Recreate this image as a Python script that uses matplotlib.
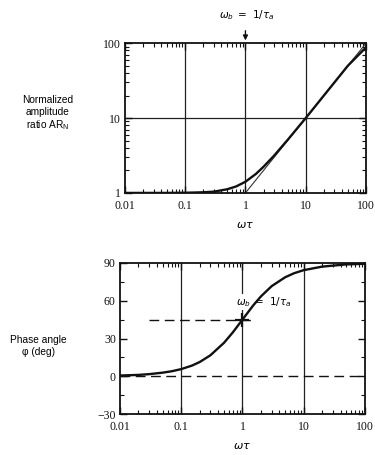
import matplotlib
matplotlib.use("Agg")
import matplotlib.pyplot as plt
from matplotlib.ticker import FixedLocator, LogLocator, NullFormatter, MultipleLocator

# Normalized frequency (omega * tau) and response
w_ar = [0.01, 0.05, 0.1, 0.2, 0.3, 0.5, 0.7, 1.0, 1.5, 2.0, 3.0, 5.0, 7.0, 10.0, 20.0, 50.0, 100.0]
ar_n = [1.0, 1.0, 1.005, 1.02, 1.04, 1.12, 1.22, 1.41, 1.8, 2.24, 3.16, 5.1, 7.07, 10.0, 20.0, 50.0, 88.0]

# High-frequency asymptote of the amplitude ratio
w_asym = [1.0, 100.0]
ar_asym = [1.0, 100.0]

w_ph = [0.01, 0.02, 0.03, 0.05, 0.07, 0.1, 0.15, 0.2, 0.3, 0.5, 0.7, 1.0, 1.5, 2.0, 3.0, 5.0, 7.0, 10.0, 20.0, 50.0, 100.0]
phase = [0.6, 1.1, 1.7, 2.9, 4.0, 5.7, 8.5, 11.3, 16.7, 26.6, 35.0, 45.0, 56.3, 63.4, 71.6, 78.7, 81.9, 84.3, 87.1, 88.9, 89.4]

# Reference levels on the phase plot
phase_mid = 45
phase_zero = 0
corner = 1.0

xticks = [0.01, 0.1, 1, 10, 100]
xticklabels = ["0.01", "0.1", "1", "10", "100"]
ar_ticks = [1, 10, 100]
ar_ticklabels = ["1", "10", "100"]
ph_ticks = [-30, 0, 30, 60, 90]
ph_ticklabels = ["\u221230", "0", "30", "60", "90"]

tick_font = {"family": "Liberation Serif", "size": 8.5}
lab_font = {"family": "Liberation Sans", "size": 7.3}

fig = plt.figure(figsize=(3.75, 4.55), dpi=100)

def style(ax):
    ax.set_xscale("log")
    ax.set_xlim(0.01, 100)
    ax.xaxis.set_major_locator(FixedLocator(xticks))
    ax.set_xticklabels(xticklabels, fontdict=tick_font)
    ax.xaxis.set_minor_locator(LogLocator(base=10, subs=range(2, 10), numticks=20))
    ax.xaxis.set_minor_formatter(NullFormatter())
    ax.tick_params(which="both", direction="in", top=True, right=True, colors="#111111")
    ax.tick_params(which="major", length=5, width=1.0, pad=3)
    ax.tick_params(axis="x", which="major", pad=5)
    ax.tick_params(which="minor", length=3, width=0.8)
    for s in ax.spines.values():
        s.set_linewidth(1.3)
        s.set_color("#111111")
    ax.set_xlabel(r"$\omega\tau$", fontsize=8, labelpad=6)
    for xv in [0.1, 1, 10]:
        ax.axvline(xv, color="#222222", lw=0.9, zorder=1)

# Amplitude ratio plot
ax1 = fig.add_axes([0.333, 0.576, 0.643, 0.329])
style(ax1)
ax1.set_yscale("log")
ax1.set_ylim(1, 100)
ax1.yaxis.set_major_locator(FixedLocator(ar_ticks))
ax1.set_yticklabels(ar_ticklabels, fontdict=tick_font)
ax1.yaxis.set_minor_locator(LogLocator(base=10, subs=range(2, 10), numticks=20))
ax1.yaxis.set_minor_formatter(NullFormatter())
ax1.axhline(10, color="#222222", lw=0.9, zorder=1)
ax1.plot(w_asym, ar_asym, color="#333333", lw=0.8, zorder=2)
ax1.plot(w_ar, ar_n, color="#111111", lw=1.7, zorder=3)
ax1.annotate("", xy=(corner, 100), xytext=(corner, 160),
             xycoords="data", textcoords="data",
             arrowprops=dict(arrowstyle="-|>", color="#111111", lw=1.0, mutation_scale=7),
             annotation_clip=False)
ax1.text(corner * 1.05, 235, r"$\omega_b\ =\ 1/\tau_a$", ha="center", va="center", fontsize=7.5)
fig.text(0.128, 0.75, "Normalized\namplitude\nratio AR$_\\mathregular{N}$", ha="center", va="center",
         fontdict=lab_font, linespacing=1.2)

# Phase angle plot
ax2 = fig.add_axes([0.32, 0.09, 0.653, 0.332])
style(ax2)
ax2.set_ylim(-30, 90)
ax2.yaxis.set_major_locator(FixedLocator(ph_ticks))
ax2.set_yticklabels(ph_ticklabels, fontdict=tick_font)
ax2.yaxis.set_minor_locator(MultipleLocator(15))
ax2.plot([0.03, 1.6], [phase_mid, phase_mid], color="#111111", lw=1.0, dashes=(7, 4), zorder=2)
ax2.axhline(phase_zero, color="#111111", lw=1.0, dashes=(7, 4), zorder=2)
ax2.plot(w_ph, phase, color="#111111", lw=1.7, zorder=3)
ax2.plot([corner], [phase_mid], marker="+", color="#111111", ms=10, mew=1.6, zorder=4)
ax2.text(0.78, 59, r"$\omega_b\ =\ 1/\tau_a$", ha="left", va="center", fontsize=7.5,
         bbox=dict(facecolor="white", edgecolor="none", pad=0.5), zorder=2.5)
fig.text(0.103, 0.24, "Phase angle\n\u03c6 (deg)", ha="center", va="center",
         fontdict=lab_font, linespacing=1.2)

fig.savefig("out.png", dpi=100, facecolor="white")
